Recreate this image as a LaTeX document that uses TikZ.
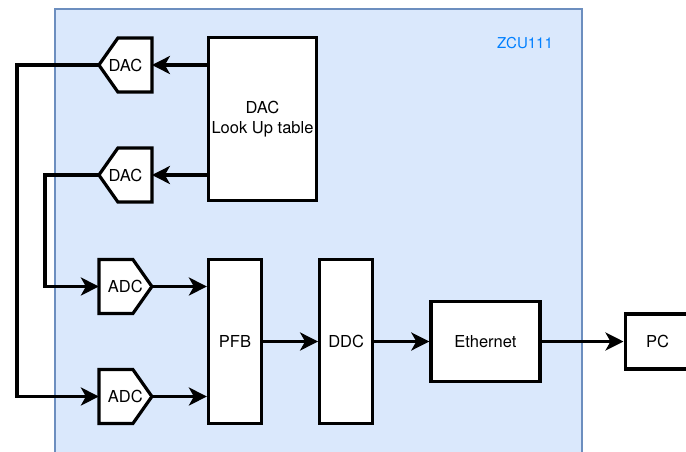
\documentclass[tikz,border=0pt]{standalone}
\usepackage{fontspec}
\setmainfont{TeX Gyre Heros}
\usepackage{tikz}
\usetikzlibrary{arrows.meta,positioning,backgrounds}

\definecolor{zcufill}{HTML}{DAE8FC}
\definecolor{zculine}{HTML}{6C8EBF}
\definecolor{zcutext}{HTML}{007FFF}

\begin{document}
\begin{tikzpicture}[x=1pt,y=-1pt,>={Stealth[length=18pt,width=18pt,inset=5pt]},line width=3.2pt]
  \tikzstyle{block}=[draw,fill=white,inner sep=0pt,font=\fontsize{16.5}{20}\selectfont]
  \tikzstyle{conv}=[inner sep=0pt,outer sep=0pt,minimum width=53pt,minimum height=54pt,font=\fontsize{16.5}{20}\selectfont]
  \tikzstyle{convline}=[draw=black,fill=white,line width=3.2pt]
  \path[use as bounding box,clip] (0,0) rectangle (686,451);

  \node[block,minimum width=108pt,minimum height=163pt,align=center] (lut) at (262.5,119) {DAC\\Look Up table};
  \node[conv] (dac1) [left=55pt of lut.west,yshift=54pt]  {DAC};
  \node[conv] (dac2) [left=55pt of lut.west,yshift=-56pt] {DAC};

  \node[block,minimum width=53pt,minimum height=164pt] (pfb) at (235,341.5) {PFB};
  \node[block,minimum width=53pt,minimum height=164pt] (ddc) [right=55pt of pfb] {DDC};
  \node[block,minimum width=109pt,minimum height=80pt] (eth) [right=55pt of ddc] {Ethernet};
  \node[block,minimum width=65pt,minimum height=55pt] (pc) [right=82pt of eth] {PC};
  \node[conv] (adc1) [left=55pt of pfb.west,yshift=55pt]  {ADC};
  \node[conv] (adc2) [left=55pt of pfb.west,yshift=-55pt] {ADC};

  \node[text=zcutext,font=\fontsize{15}{18}\selectfont] (zcu label) at (525,43) {ZCU111};

  % look up table feeds both converters
  \draw[->] (lut.west |- dac1.east) -- (dac1.east);
  \draw[->] (lut.west |- dac2.east) -- (dac2.east);
  % loopback cables
  \draw[->] (dac1.west) -- ++(-82,0) |- (adc2.west);
  \draw[->] (dac2.west) -- ++(-54,0) |- (adc1.west);
  % receive chain
  \draw[->] (adc1.east) -- (pfb.west |- adc1.east);
  \draw[->] (adc2.east) -- (pfb.west |- adc2.east);
  \draw[->] (pfb) -- (ddc);
  \draw[->] (ddc) -- (eth);
  \draw[->] (eth) -- (pc);

  % board and converter outlines go underneath
  \begin{scope}[on background layer]
    \path[fill=zcufill,draw=zculine,line width=1.2pt] (55,9) rectangle (582,470);
    \foreach \d in {dac1,dac2}
      \path[convline] (\d.north east) -- (\d.south east) -- ([xshift=19pt]\d.south west)
        -- (\d.west) -- ([xshift=19pt]\d.north west) -- cycle;
    \foreach \a in {adc1,adc2}
      \path[convline] (\a.north west) -- ([xshift=-19pt]\a.north east) -- (\a.east)
        -- ([xshift=-19pt]\a.south east) -- (\a.south west) -- cycle;
  \end{scope}
\end{tikzpicture}
\end{document}
